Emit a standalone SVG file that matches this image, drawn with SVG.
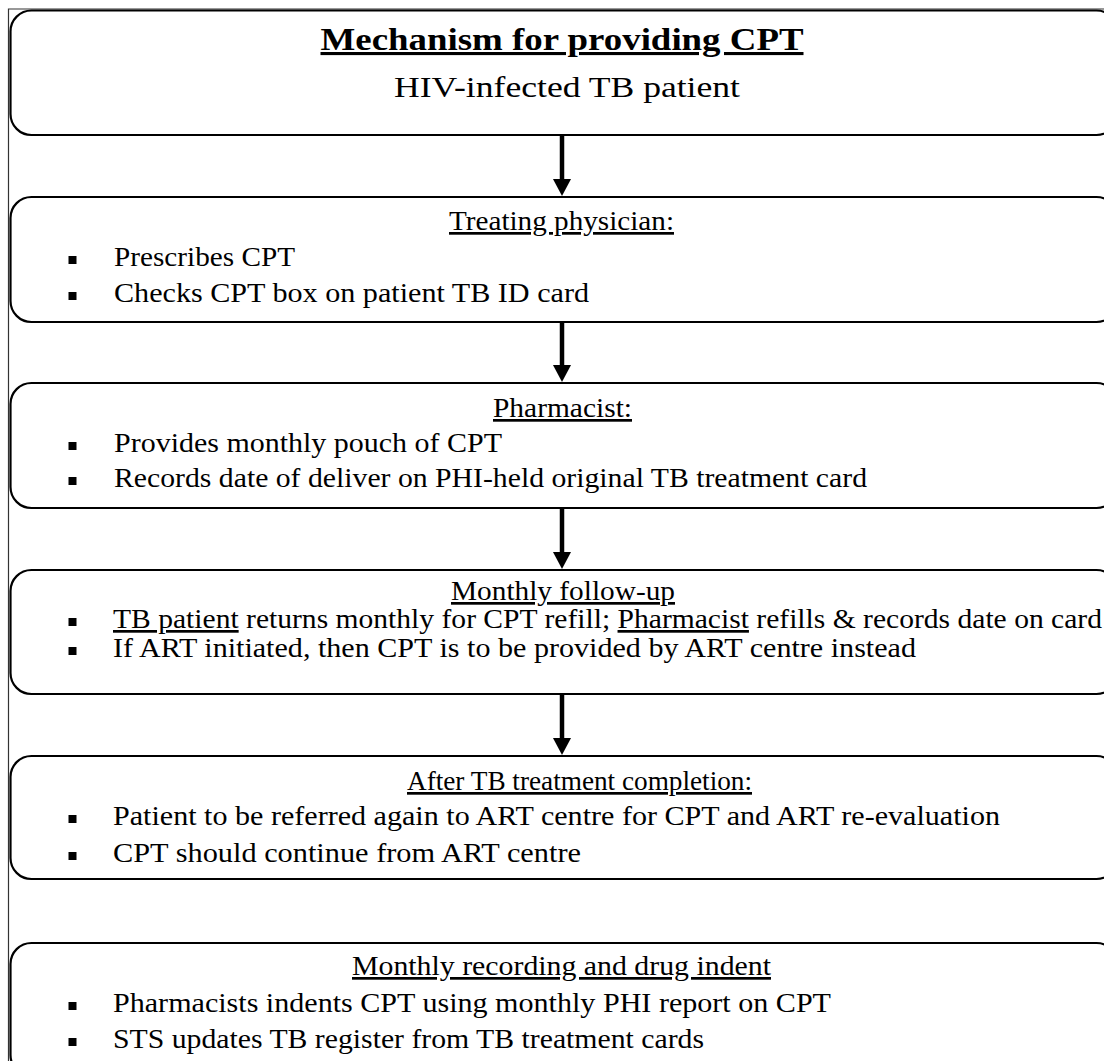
<svg xmlns="http://www.w3.org/2000/svg" width="1104" height="1061" viewBox="0 0 1104 1061">
<defs>
<style>
.box{fill:#ffffff;stroke:#000000;stroke-width:2.2}
.frame{fill:none;stroke:#333333;stroke-width:1.2}
.t{font-family:"Liberation Serif","Times New Roman",serif;font-size:27px;fill:#000000}
.h{text-anchor:middle;text-decoration:underline}
.u{text-decoration:underline}
.title{font-family:"Liberation Serif","Times New Roman",serif;font-size:31px;font-weight:bold;text-anchor:middle;text-decoration:underline;fill:#000000}
.sub{font-family:"Liberation Serif","Times New Roman",serif;font-size:30px;text-anchor:middle;fill:#000000}
.shaft{stroke:#000000;stroke-width:4.5;fill:none}
.head{fill:#000000}
.bul{fill:#000000}
</style>
</defs>
<rect x="0" y="0" width="1104" height="1061" fill="#ffffff"/>
<path class="frame" d="M8.5 1061 V9 H1104"/>

<g id="node-start">
<rect class="box" x="10.5" y="10.5" width="1107" height="124.5" rx="21"/>
<text class="title" x="562" y="50" textLength="483" lengthAdjust="spacingAndGlyphs">Mechanism for providing CPT</text>
<text class="sub" x="567" y="97" textLength="346" lengthAdjust="spacingAndGlyphs">HIV-infected TB patient</text>
</g>

<g id="node-physician">
<rect class="box" x="10.5" y="197" width="1107" height="125" rx="21"/>
<text class="t h" x="561.5" y="230" textLength="225" lengthAdjust="spacingAndGlyphs">Treating physician:</text>
<rect class="bul" x="68.5" y="256" width="8" height="8"/>
<text class="t" x="114" y="266" textLength="181" lengthAdjust="spacingAndGlyphs">Prescribes CPT</text>
<rect class="bul" x="68.5" y="292" width="8" height="8"/>
<text class="t" x="114" y="302" textLength="475" lengthAdjust="spacingAndGlyphs">Checks CPT box on patient TB ID card</text>
</g>

<g id="node-pharmacist">
<rect class="box" x="10.5" y="383" width="1107" height="125" rx="21"/>
<text class="t h" x="562.5" y="417" textLength="139" lengthAdjust="spacingAndGlyphs">Pharmacist:</text>
<rect class="bul" x="68.5" y="442" width="8" height="8"/>
<text class="t" x="114" y="452" textLength="388" lengthAdjust="spacingAndGlyphs">Provides monthly pouch of CPT</text>
<rect class="bul" x="68.5" y="477" width="8" height="8"/>
<text class="t" x="114" y="487" textLength="753" lengthAdjust="spacingAndGlyphs">Records date of deliver on PHI-held original TB treatment card</text>
</g>

<g id="node-followup">
<rect class="box" x="10.5" y="570" width="1107" height="124" rx="21"/>
<text class="t h" x="563" y="600" textLength="224" lengthAdjust="spacingAndGlyphs">Monthly follow-up</text>
<rect class="bul" x="68.5" y="618" width="8" height="8"/>
<text class="t" x="113" y="628" textLength="989" lengthAdjust="spacingAndGlyphs"><tspan class="u">TB patient</tspan> returns monthly for CPT refill; <tspan class="u">Pharmacist</tspan> refills &amp; records date on card</text>
<rect class="bul" x="68.5" y="647" width="8" height="8"/>
<text class="t" x="113" y="657" textLength="803" lengthAdjust="spacingAndGlyphs">If ART initiated, then CPT is to be provided by ART centre instead</text>
</g>

<g id="node-completion">
<rect class="box" x="10.5" y="756" width="1107" height="123" rx="21"/>
<text class="t h" x="579.5" y="790" textLength="345" lengthAdjust="spacingAndGlyphs">After TB treatment completion:</text>
<rect class="bul" x="68.5" y="815" width="8" height="8"/>
<text class="t" x="113" y="825" textLength="887" lengthAdjust="spacingAndGlyphs">Patient to be referred again to ART centre for CPT and ART re-evaluation</text>
<rect class="bul" x="68.5" y="852" width="8" height="8"/>
<text class="t" x="113" y="862" textLength="468" lengthAdjust="spacingAndGlyphs">CPT should continue from ART centre</text>
</g>

<g id="node-recording">
<rect class="box" x="10.5" y="943" width="1107" height="133" rx="21"/>
<text class="t h" x="561.5" y="975" textLength="419" lengthAdjust="spacingAndGlyphs">Monthly recording and drug indent</text>
<rect class="bul" x="68.5" y="1002" width="8" height="8"/>
<text class="t" x="113" y="1012" textLength="718" lengthAdjust="spacingAndGlyphs">Pharmacists indents CPT using monthly PHI report on CPT</text>
<rect class="bul" x="68.5" y="1038" width="8" height="8"/>
<text class="t" x="113" y="1048" textLength="591" lengthAdjust="spacingAndGlyphs">STS updates TB register from TB treatment cards</text>
</g>

<g id="connectors">
<line class="shaft" x1="562" y1="135" x2="562" y2="181"/>
<polygon class="head" points="553,179 571,179 562,196"/>
<line class="shaft" x1="562" y1="322" x2="562" y2="367"/>
<polygon class="head" points="553,365 571,365 562,382"/>
<line class="shaft" x1="562" y1="508" x2="562" y2="554"/>
<polygon class="head" points="553,552 571,552 562,569"/>
<line class="shaft" x1="562" y1="694" x2="562" y2="740"/>
<polygon class="head" points="553,738 571,738 562,755"/>
</g>
</svg>
